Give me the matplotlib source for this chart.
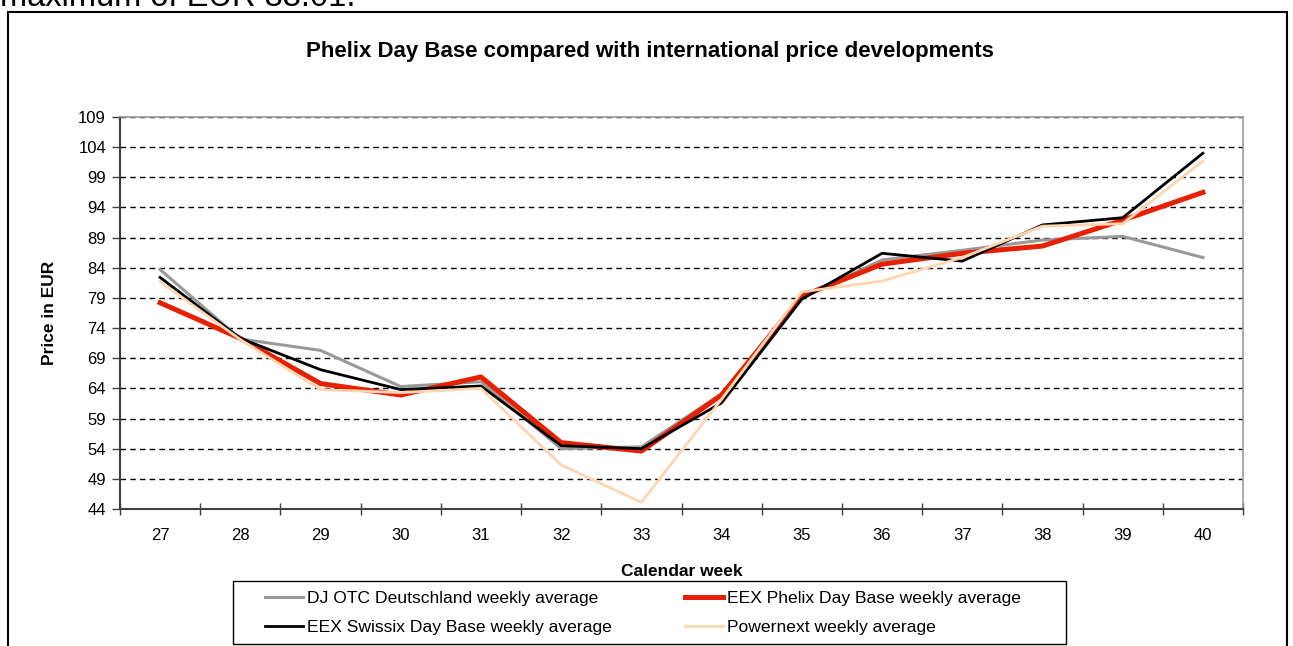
import numpy as np
import matplotlib
matplotlib.use('Agg')
import matplotlib.pyplot as plt
from matplotlib.patches import Rectangle
from matplotlib.lines import Line2D

plt.rcParams['font.family'] = ['Liberation Sans', 'DejaVu Sans']

weeks = ['27', '28', '29', '30', '31', '32', '33', '34', '35', '36', '37', '38', '39', '40']

# weekly averages
dj_otc = [83.7, 72.2, 70.3, 64.3, 65.1, 54.0, 54.3, 63.1, 79.0, 85.3, 86.9, 88.6, 89.2, 85.7]
phelix = [78.2, 72.3, 64.8, 62.9, 65.9, 55.0, 53.6, 62.9, 79.3, 84.6, 86.4, 87.6, 91.9, 96.5]
swissix = [82.4, 72.3, 67.1, 63.8, 64.4, 54.5, 54.0, 61.6, 78.8, 86.4, 85.1, 91.1, 92.3, 103.0]
powernext = [81.7, 72.1, 63.8, 63.3, 64.0, 51.3, 45.1, 62.2, 80.0, 81.8, 85.7, 90.9, 91.3, 101.7]

series_names = ['DJ OTC Deutschland weekly average', 'EEX Phelix Day Base weekly average',
                'EEX Swissix Day Base weekly average', 'Powernext weekly average']

W, H = 1293, 646
fig = plt.figure(figsize=(W / 100, H / 100), dpi=100)

# page text above the chart (cut off at the top)
fig.text(0 / W, 1 - 6 / H, 'maximum of EUR 88.01.', fontsize=23.5, va='baseline', ha='left')

# chart frame (extends past the bottom edge)
fig.patches.append(Rectangle((8 / W, -0.1), (1287 - 8) / W, 1.1 - 12 / H,
                             transform=fig.transFigure, fill=False,
                             edgecolor='black', linewidth=1.5))

left, right, top, bottom = 120, 1243, 117, 509
ax = fig.add_axes([left / W, 1 - bottom / H, (right - left) / W, (bottom - top) / H])

x = np.arange(len(weeks))
ax.plot(x, dj_otc, color='#999999', lw=2.2, zorder=3)
ax.plot(x, phelix, color='#e62000', lw=3.6, zorder=4)
ax.plot(x, swissix, color='black', lw=2.0, zorder=5)
ax.plot(x, powernext, color='#fdd5b1', lw=2.0, zorder=6)

ax.set_xlim(-0.5, len(weeks) - 0.5)
ax.set_ylim(44, 109)
ax.set_yticks(np.arange(44, 110, 5))
ax.set_xticks(x)
ax.set_xticklabels(weeks)
ax.set_xticks(np.arange(-0.5, len(weeks)), minor=True)
ax.tick_params(axis='x', which='major', length=0, labelsize=12, pad=14)
ax.tick_params(axis='x', which='minor', length=9, direction='inout', width=1, color='#404040')
ax.tick_params(axis='y', length=6, width=1, color='#404040', labelsize=12, pad=4)

ax.yaxis.grid(True, color='black', linestyle=(0, (4, 3)), linewidth=1)
ax.set_axisbelow(True)

for s in ['left', 'bottom']:
    ax.spines[s].set_color('#404040')
    ax.spines[s].set_linewidth(1.5)
for s in ['top', 'right']:
    ax.spines[s].set_color('#999999')
    ax.spines[s].set_linewidth(1.2)

fig.text(650 / W, 1 - 51 / H, 'Phelix Day Base compared with international price developments',
         fontsize=16, fontweight='bold', ha='center', va='center')
ax.set_xlabel('Calendar week', fontsize=12.5, fontweight='bold', labelpad=15)
ax.set_ylabel('Price in EUR', fontsize=12.5, fontweight='bold', labelpad=15)

# legend box
fig.patches.append(Rectangle((233 / W, 1 - 644 / H), (1066 - 233) / W, (644 - 581) / H,
                             transform=fig.transFigure, fill=False,
                             edgecolor='black', linewidth=1.0))

handles = [Line2D([], [], color='#999999', lw=2.2),
           Line2D([], [], color='black', lw=2.0),
           Line2D([], [], color='#e62000', lw=3.6),
           Line2D([], [], color='#fdd5b1', lw=2.0)]
labels = [series_names[0], series_names[2], series_names[1], series_names[3]]
fig.legend(handles, labels, ncol=2, loc='upper left',
           bbox_to_anchor=(265 / W, 1 - 591 / H), frameon=False,
           borderpad=0, borderaxespad=0,
           fontsize=12.6, handlelength=2.17, handletextpad=0.23,
           columnspacing=4.2, labelspacing=0.79)

fig.savefig('out.png', dpi=100)
